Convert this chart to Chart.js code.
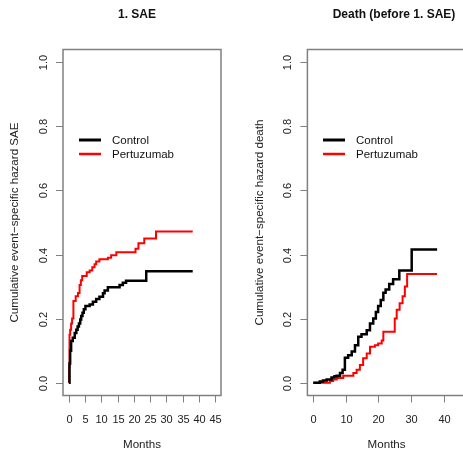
<!DOCTYPE html>
<html>
<head>
<meta charset="utf-8">
<script src="https://cdn.jsdelivr.net/npm/chart.js@4"></script>
<style>
  html, body { margin: 0; padding: 0; background: #fff; overflow: hidden; width: 463px; height: 449px; position: relative; }
  #wrapLeft { position: absolute; left: 0; top: 0; width: 231px; height: 449px; }
  #wrapRight { position: absolute; left: 231px; top: 0; width: 240px; height: 449px; }
  canvas { display: block; }
</style>
</head>
<body>
<div id="wrapLeft"><canvas id="leftChart" width="231" height="449" style="width:231px;height:449px"></canvas></div>
<div id="wrapRight"><canvas id="rightChart" width="240" height="449" style="width:240px;height:449px"></canvas></div>
<script>
// 1. SAE - cumulative event-specific hazard, step functions (months, value)
var saeControlMonths = [0, 0.2, 0.4, 0.7, 1.2, 1.8, 2.3, 2.7, 3.1, 3.5, 3.8, 4.2, 4.6, 5.1, 6.4, 7.4, 8.4, 9.4, 10.5, 11, 12, 15.6, 16.6, 17.6, 23.8, 38.1];
var saeControlHazard = [0, 0.06, 0.10, 0.13, 0.14, 0.155, 0.165, 0.175, 0.185, 0.197, 0.208, 0.218, 0.229, 0.239, 0.244, 0.253, 0.261, 0.268, 0.279, 0.288, 0.298, 0.305, 0.312, 0.318, 0.348, 0.348];
var saePertuzumabMonths = [0, 0.1, 0.2, 0.4, 0.7, 1.0, 1.4, 2.1, 2.8, 3.3, 3.7, 4.1, 5.5, 6.4, 7.2, 7.9, 8.4, 9.4, 12, 13, 14.6, 20.5, 21.4, 23.2, 26.8, 38.1];
var saePertuzumabHazard = [0, 0.05, 0.15, 0.165, 0.185, 0.2, 0.255, 0.27, 0.28, 0.305, 0.32, 0.333, 0.345, 0.35, 0.36, 0.37, 0.378, 0.385, 0.39, 0.398, 0.407, 0.418, 0.435, 0.45, 0.472, 0.472];

// Death (before 1. SAE)
var deathControlMonths = [0, 2, 3, 4.1, 5.6, 6.5, 7.2, 8.2, 9, 9.7, 10.7, 11.8, 12.8, 13.8, 14.8, 16.4, 17.4, 18.4, 19.2, 19.9, 20.7, 21.5, 22.2, 23.3, 24.5, 26.4, 30.2, 38];
var deathControlHazard = [0, 0.004, 0.007, 0.01, 0.016, 0.02, 0.022, 0.03, 0.04, 0.078, 0.086, 0.097, 0.117, 0.143, 0.151, 0.164, 0.185, 0.2, 0.221, 0.239, 0.258, 0.281, 0.291, 0.308, 0.323, 0.35, 0.416, 0.416];
var deathPertuzumabMonths = [0, 5.1, 6.1, 7.2, 9.2, 12.3, 13.3, 14.3, 15.3, 16.4, 17.4, 18.9, 19.9, 21, 21.5, 25, 25.6, 26.5, 27.4, 28.1, 28.8, 38];
var deathPertuzumabHazard = [0, 0.005, 0.01, 0.015, 0.022, 0.03, 0.04, 0.055, 0.076, 0.091, 0.112, 0.117, 0.122, 0.132, 0.159, 0.2, 0.228, 0.248, 0.27, 0.30, 0.339, 0.339];

var yTicks = [0, 0.2, 0.4, 0.6, 0.8, 1.0];
var xTicksSae = [0, 5, 10, 15, 20, 25, 30, 35, 40, 45];
var xTicksDeath = [0, 10, 20, 30, 40];

function toPoints(xs, ys) {
    var pts = [];
    for (var i = 0; i < xs.length; i++) pts.push({ x: xs[i], y: ys[i] });
    return pts;
}

// draws the R style box, axes, titles and legend
var rStylePlugin = {
    id: 'rstyle',
    afterDraw: function (chart) {
        var o = chart.options.plugins.rstyle;
        var ctx = chart.ctx, a = chart.chartArea;
        var xs = chart.scales.x, ys = chart.scales.y;
        var midY = (a.top + a.bottom) / 2;
        var midX = (a.left + a.right) / 2;
        ctx.save();
        ctx.strokeStyle = '#808080';
        ctx.lineWidth = 1.5;
        ctx.strokeRect(a.left, a.top, a.right - a.left, a.bottom - a.top);

        ctx.lineWidth = 1;
        ctx.fillStyle = '#222';
        ctx.font = '11px "Liberation Sans", Arial, sans-serif';
        ctx.textAlign = 'center';
        ctx.textBaseline = 'middle';
        o.xTicks.forEach(function (v) {
            var px = Math.round(xs.getPixelForValue(v)) + 0.5;
            ctx.beginPath();
            ctx.moveTo(px, a.bottom);
            ctx.lineTo(px, a.bottom + 7);
            ctx.stroke();
            ctx.fillText(String(v), px, a.bottom + 24);
        });
        yTicks.forEach(function (v) {
            var py = Math.round(ys.getPixelForValue(v)) + 0.5;
            ctx.beginPath();
            ctx.moveTo(a.left - 7, py);
            ctx.lineTo(a.left, py);
            ctx.stroke();
            ctx.save();
            ctx.translate(a.left - 19.5, py);
            ctx.rotate(-Math.PI / 2);
            ctx.fillText(v.toFixed(1), 0, 0);
            ctx.restore();
        });

        // axis titles
        ctx.font = '11.6px "Liberation Sans", Arial, sans-serif';
        ctx.save();
        ctx.translate(a.left - 48, midY);
        ctx.rotate(-Math.PI / 2);
        ctx.fillText(o.yTitle, 0, 0);
        ctx.restore();
        ctx.textBaseline = 'alphabetic';
        ctx.fillText('Months', midX, 448);

        // main title
        ctx.font = 'bold 12px "Liberation Sans", Arial, sans-serif';
        ctx.fillStyle = '#111';
        ctx.fillText(o.title, o.titleX, 17.5);

        // legend
        ctx.font = '11.5px "Liberation Sans", Arial, sans-serif';
        ctx.textAlign = 'left';
        ctx.textBaseline = 'middle';
        chart.data.datasets.forEach(function (ds, i) {
            var ly = 140 + i * 14;
            ctx.strokeStyle = ds.borderColor;
            ctx.lineWidth = ds.borderWidth + 0.5;
            ctx.beginPath();
            ctx.moveTo(o.legendX, ly);
            ctx.lineTo(o.legendX + 22, ly);
            ctx.stroke();
            ctx.fillStyle = '#111';
            ctx.fillText(ds.label, o.legendX + 33, ly + 0.5);
        });
        ctx.restore();
    }
};

function makeChart(id, ctrlX, ctrlY, pertX, pertY, opts) {
    var ctx = document.getElementById(id).getContext('2d');
    return new Chart(ctx, {
        type: 'line',
        data: {
            datasets: [{
                label: 'Control',
                data: toPoints(ctrlX, ctrlY),
                borderColor: '#000000',
                borderWidth: 2.5,
                stepped: 'before',
                pointRadius: 0,
                fill: false
            }, {
                label: 'Pertuzumab',
                data: toPoints(pertX, pertY),
                borderColor: '#ff0000',
                borderWidth: 2,
                stepped: 'before',
                pointRadius: 0,
                fill: false
            }]
        },
        options: {
            responsive: false,
            animation: false,
            devicePixelRatio: 1,
            layout: { padding: opts.padding },
            scales: {
                x: { type: 'linear', min: -1.8, max: 46.8, display: false },
                y: { type: 'linear', min: -0.04, max: 1.04, display: false }
            },
            plugins: {
                legend: { display: false },
                tooltip: { enabled: false },
                rstyle: opts.rstyle
            }
        },
        plugins: [rStylePlugin]
    });
}

makeChart('leftChart', saeControlMonths, saeControlHazard, saePertuzumabMonths, saePertuzumabHazard, {
    padding: { left: 63, right: 10, top: 49.5, bottom: 53.5 },
    rstyle: {
        xTicks: xTicksSae,
        yTitle: 'Cumulative event\u2212specific hazard SAE',
        title: '1. SAE',
        titleX: 137,
        legendX: 79
    }
});

makeChart('rightChart', deathControlMonths, deathControlHazard, deathPertuzumabMonths, deathPertuzumabHazard, {
    padding: { left: 76.4, right: 5.2, top: 49.5, bottom: 53.5 },
    rstyle: {
        xTicks: xTicksDeath,
        yTitle: 'Cumulative event\u2212specific hazard death',
        title: 'Death (before 1. SAE)',
        titleX: 163,
        legendX: 92
    }
});
</script>
</body>
</html>
